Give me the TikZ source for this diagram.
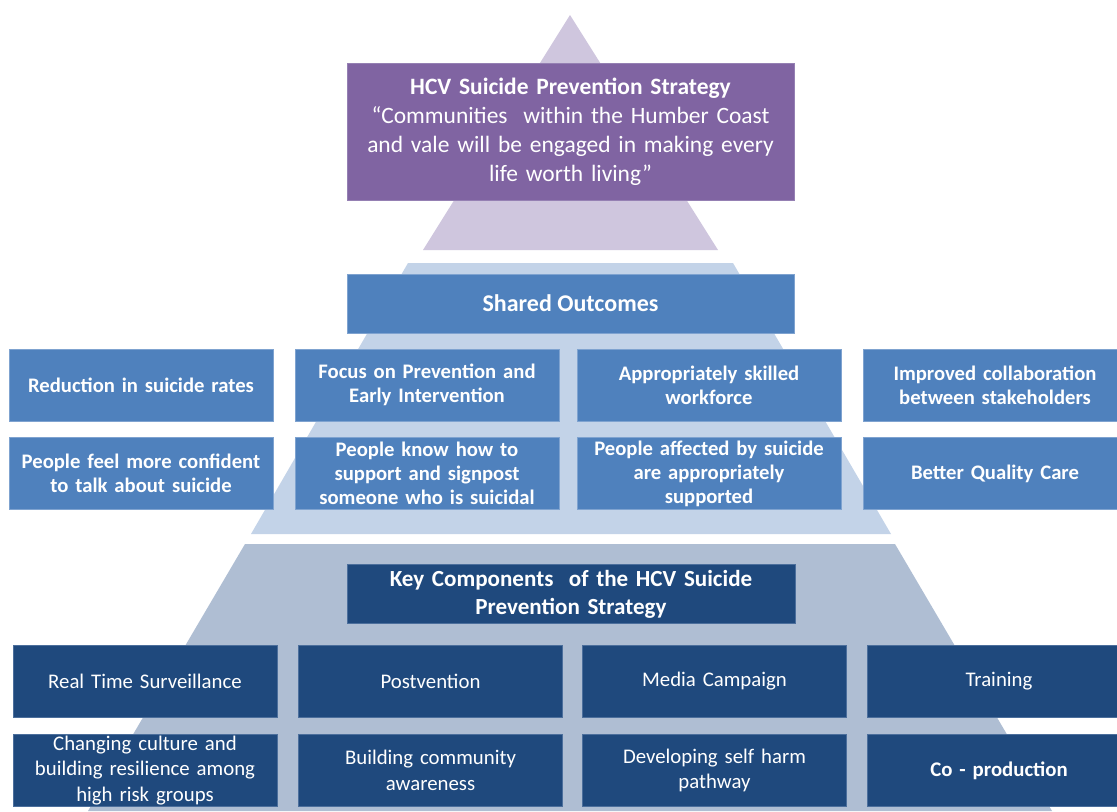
\documentclass[tikz,border=0pt]{standalone}
\usepackage{fontspec}
\setmainfont{Carlito}

\definecolor{tripurple}{HTML}{CFC6DE}
\definecolor{aimpurple}{HTML}{8064A2}
\definecolor{aimedge}{HTML}{9580B3}
\definecolor{bandmid}{HTML}{C3D3E8}
\definecolor{outblue}{HTML}{4F81BD}
\definecolor{outedge}{HTML}{7FA3D0}
\definecolor{bandlow}{HTML}{AFBED3}
\definecolor{keynavy}{HTML}{1F497D}
\definecolor{keyedge}{HTML}{4C6F9C}

\begin{document}
\begin{tikzpicture}[x=0.75pt,y=-0.75pt,
	box/.style={rectangle,inner sep=0pt,outer sep=0pt,align=center,text=white,line width=0.6pt},
	aimbox/.style={box,fill=aimpurple,draw=aimedge,minimum width=335.25pt,minimum height=102.75pt,text width=325pt,font=\fontsize{17.6}{21.8}\selectfont},
	outhead/.style={box,fill=outblue,draw=outedge,minimum width=335.25pt,minimum height=44.25pt,font=\bfseries\fontsize{18}{21}\selectfont},
	outbox/.style={box,fill=outblue,draw=outedge,minimum width=198pt,minimum height=54pt,text width=192pt,font=\bfseries\fontsize{15.5}{18}\selectfont},
	keyhead/.style={box,fill=keynavy,draw=keyedge,minimum width=336pt,minimum height=44.25pt,text width=330pt,font=\bfseries\fontsize{17.3}{21}\selectfont},
	keybox/.style={box,fill=keynavy,draw=keyedge,minimum width=198pt,minimum height=54pt,text width=192pt,font=\fontsize{15.6}{19}\selectfont}]

	% page
	\useasboundingbox (0,0) rectangle (1117,811);
	\clip (0,0) rectangle (1117,811);
	\fill[white] (0,0) rectangle (1117,811);

	% pyramid bands
	\fill[tripurple] (570,15) -- (718,250) -- (423,250) -- cycle;
	\fill[bandmid] (408,263) -- (733,263) -- (891,534) -- (251,534) -- cycle;
	\fill[bandlow] (245,544) -- (895,544) -- (1052,811) -- (88,811) -- cycle;

	% strategy aim
	\node[aimbox] (aim) at (570.5,131.5) {\textbf{HCV Suicide Prevention Strategy}\\“Communities~ within the Humber Coast\\and vale will be engaged in making every\\life worth living”};

	% shared outcomes
	\node[outhead] (shared) at (570.5,303.5) {Shared Outcomes};

	\node[outbox] (out1) at (141,385) {Reduction in suicide rates};
	\node[outbox] (out2) at (427,385) {Focus on Prevention and\\Early Intervention};
	\node[outbox] (out3) at (709,385) {Appropriately skilled\\workforce};
	\node[outbox] (out4) at (995,385) {Improved collaboration\\between stakeholders};

	\node[outbox] (out5) at (141,473.5) {People feel more confident\\to talk about suicide};
	\node[outbox] (out6) at (427,473.5) {People know how to\\support and signpost\\someone who is suicidal};
	\node[outbox] (out7) at (709,473.5) {People affected by suicide\\are appropriately\\supported};
	\node[outbox] (out8) at (995,473.5) {Better Quality Care};

	% key components
	\node[keyhead] (key) at (571,594) {Key Components~ of the HCV Suicide\\Prevention Strategy};

	\node[keybox] (key1) at (145,681.5) {Real Time Surveillance};
	\node[keybox] (key2) at (430.5,681.5) {Postvention};
	\node[keybox] (key3) at (714.5,681.5) {Media Campaign};
	\node[keybox] (key4) at (999,681.5) {Training};

	\node[keybox] (key5) at (145,770.5) {Changing culture and\\building resilience among\\high risk groups};
	\node[keybox] (key6) at (430.5,770.5) {Building community\\awareness};
	\node[keybox] (key7) at (714.5,770.5) {Developing self harm\\pathway};
	\node[keybox] (key8) at (999,770.5) {\textbf{Co - production}};

\end{tikzpicture}
\end{document}
